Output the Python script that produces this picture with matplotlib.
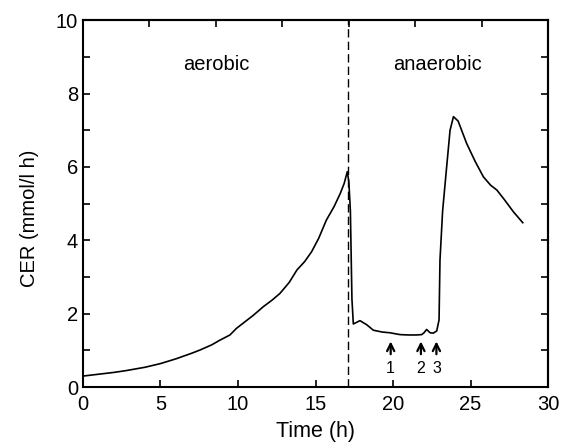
import numpy as np
import matplotlib
matplotlib.use("Agg")
import matplotlib.pyplot as plt

plt.rcParams['font.family'] = ['Liberation Sans', 'DejaVu Sans']

# CER trace
time_h = [0.0, 1.0, 2.0, 2.8, 4.0, 5.0, 6.0, 7.0, 7.55, 8.3, 8.84, 9.48, 9.9,
          10.45, 11.0, 11.63, 12.2, 12.7, 13.3, 13.8, 14.3, 14.75, 15.2, 15.7,
          16.2, 16.6, 16.85, 17.05, 17.15, 17.25, 17.35, 17.44, 17.87, 18.3,
          18.73, 19.3, 19.8, 20.45, 21.0, 21.5, 21.85, 22.0, 22.17, 22.39,
          22.6, 22.82, 22.97, 23.03, 23.2, 23.46, 23.68, 23.9, 24.2, 24.75,
          25.3, 25.83, 26.3, 26.7, 27.2, 27.76, 28.37]
cer = [0.30, 0.35, 0.40, 0.45, 0.54, 0.64, 0.77, 0.92, 1.01, 1.15, 1.28, 1.42,
       1.60, 1.78, 1.96, 2.19, 2.37, 2.55, 2.85, 3.19, 3.42, 3.69, 4.05, 4.55,
       4.92, 5.28, 5.55, 5.87, 5.60, 4.80, 2.40, 1.72, 1.81, 1.70, 1.55, 1.50,
       1.48, 1.43, 1.42, 1.42, 1.43, 1.48, 1.57, 1.48, 1.47, 1.53, 1.83, 3.46,
       4.80, 6.00, 7.00, 7.37, 7.25, 6.64, 6.15, 5.73, 5.50, 5.37, 5.10, 4.78,
       4.48]

switch_time = 17.1
arrow_times = [19.85, 21.8, 22.8]
arrow_labels = ["1", "2", "3"]

fig = plt.figure(figsize=(5.63, 4.48), dpi=100)
ax = fig.add_axes([0.1474, 0.136, 0.826, 0.819])

ax.plot(time_h, cer, color='black', lw=1.2)
ax.axvline(switch_time, color='black', lw=1.0, ls=(0, (6, 3)))

ax.text(8.6, 8.8, "aerobic", ha='center', va='center', fontsize=14.5)
ax.text(22.9, 8.8, "anaerobic", ha='center', va='center', fontsize=14.5)

for t, lab in zip(arrow_times, arrow_labels):
    ax.annotate("", xy=(t, 1.32), xytext=(t, 0.82),
                arrowprops=dict(arrowstyle='->', color='black', lw=1.6,
                                mutation_scale=13))
    ax.text(t, 0.5, lab, ha='center', va='center', fontsize=11.5)

ax.set_xlim(0, 30)
ax.set_ylim(0, 10)
ax.set_xticks([0, 5, 10, 15, 20, 25, 30])
ax.set_yticks([0, 2, 4, 6, 8, 10])
ax.set_yticks([1, 3, 5, 7, 9], minor=True)
ax.tick_params(axis='both', which='both', direction='in', labelsize=14.5)
ax.tick_params(axis='both', which='major', length=5, width=1.2)
ax.tick_params(axis='both', which='minor', length=5, width=1.2)
ax.tick_params(axis='x', pad=6)

# top and right ticks (no labels)
top = ax.secondary_xaxis('top')
top.set_xticks([30 / 7 * k for k in range(1, 7)])
top.tick_params(direction='in', length=5, width=1.2, labeltop=False)
right = ax.secondary_yaxis('right')
right.set_yticks(range(1, 10))
right.tick_params(direction='in', length=5, width=1.2, labelright=False)

for s in list(ax.spines.values()) + [top.spines['top'], right.spines['right']]:
    s.set_linewidth(1.5)

ax.set_xlabel("Time (h)", fontsize=15.5, labelpad=5)
ax.set_ylabel("CER (mmol/l h)", fontsize=14.5, labelpad=10)
ax.yaxis.set_label_coords(-0.095, 0.46)

fig.savefig("out.png", dpi=100)
